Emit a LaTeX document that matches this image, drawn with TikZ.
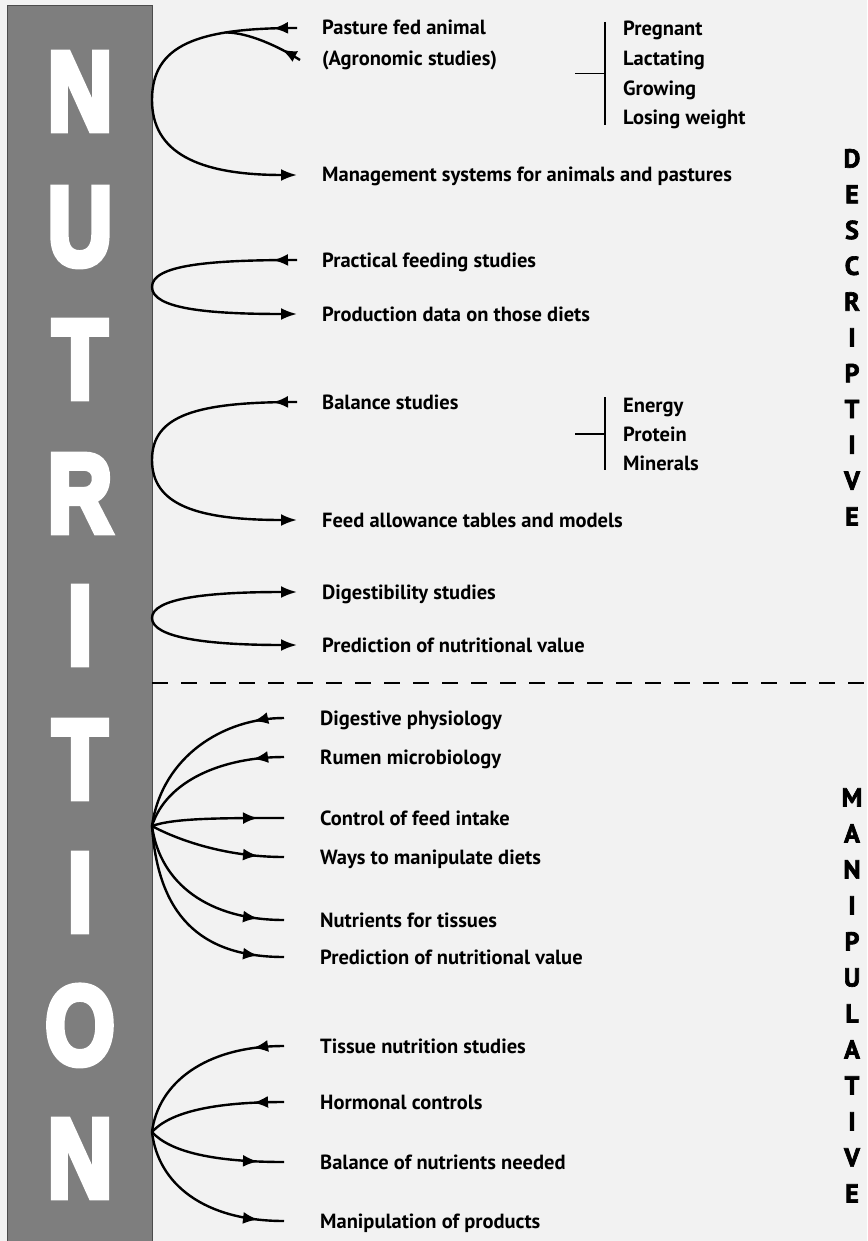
\documentclass[tikz,border=0pt]{standalone}
\usepackage{fontspec}
\setmainfont{PT Sans}
\newfontfamily\bigfont[FakeBold=6]{Liberation Sans Bold}
\newfontfamily\sidefont[FakeBold=2.5]{PT Sans Bold}
\usetikzlibrary{calc,arrows.meta,decorations.markings}
\definecolor{paper}{HTML}{F2F2F2}
\definecolor{barfill}{HTML}{7E7E7E}
\begin{document}
\begin{tikzpicture}[x=1pt,y=-1pt,
  lab/.style={font=\bfseries\fontsize{20.5}{20.5}\selectfont, anchor=west, inner sep=0pt, text height=14pt, text depth=0pt},
  conn/.style={line width=2.4pt},
  tip/.style={-{Latex[length=16pt,width=12pt]}},
  midr/.style={postaction={decorate}, decoration={markings, mark=at position #1 with {\arrow{Latex[length=15pt,width=12pt]}}}},
  midl/.style={postaction={decorate}, decoration={markings, mark=at position #1 with {\arrowreversed{Latex[length=15pt,width=12pt]}}}},
  bigl/.style={font=\bigfont\fontsize{112}{112}\selectfont, text=white, inner sep=0pt, text height=80pt, text depth=0pt},
  side/.style={font=\sidefont\fontsize{26}{26}\selectfont, inner sep=0pt, text height=19pt, text depth=0pt},
  brk/.style={line width=1.8pt}
]
\fill[paper] (0,0) rectangle (867,1241);
\useasboundingbox (0,0) rectangle (867,1241);
\fill[barfill, draw=black!70, line width=0.8pt] (7,5) rectangle (152,1250);

% big letters
\foreach \l/\yy [count=\i] in {N/90,U/225,T/358,R/492,I/624,T/758,I/891,O/1024,N/1157}
  \node[bigl] (big\i) at (80,\yy) {\scalebox{0.8}[1]{\l}};

% side letters
\foreach \l [count=\i] in {D,E,S,C,R,I,P,T,I,V,E}
  \node[side] (des\i) at (852,{158+(\i-1)*35.8}) {\l};
\foreach \l [count=\i] in {M,A,N,I,P,U,L,A,T,I,V,E}
  \node[side] (man\i) at (852,{797+(\i-1)*36}) {\l};

% labels upper
\node[lab] (pasture) at (322,28) {Pasture fed animal};
\node[lab] (agro) at (322,59) {(Agronomic studies)};
\node[lab] (manage) at (322,175) {Management systems for animals and pastures};
\node[lab] (practical) at (322,260) {Practical feeding studies};
\node[lab] (production) at (322,314) {Production data on those diets};
\node[lab] (balance) at (322,402) {Balance studies};
\node[lab] (feed) at (322,520) {Feed allowance tables and models};
\node[lab] (digest) at (322,592) {Digestibility studies};
\node[lab] (predA) at (322,645) {Prediction of nutritional value};
% labels lower
\node[lab] (digphys) at (320,718) {Digestive physiology};
\node[lab] (rumen) at (320,757) {Rumen microbiology};
\node[lab] (control) at (320,818) {Control of feed intake};
\node[lab] (ways) at (320,857) {Ways to manipulate diets};
\node[lab] (nutr) at (320,920) {Nutrients for tissues};
\node[lab] (predB) at (320,957) {Prediction of nutritional value};
\node[lab] (tissue) at (320,1046) {Tissue nutrition studies};
\node[lab] (hormonal) at (320,1102) {Hormonal controls};
\node[lab] (balnut) at (320,1162) {Balance of nutrients needed};
\node[lab] (manip) at (320,1221) {Manipulation of products};

% sub lists
\node[lab] (preg) at (623,29) {Pregnant};
\node[lab] (lact) at (623,59) {Lactating};
\node[lab] (grow) at (623,89) {Growing};
\node[lab] (lose) at (623,118) {Losing weight};
\node[lab] (energy) at (623,405) {Energy};
\node[lab] (protein) at (623,434) {Protein};
\node[lab] (minerals) at (623,463) {Minerals};

% brackets
\coordinate (b1t) at ($(preg.west)+(-18,-7)$);
\coordinate (b1b) at ($(lose.west)+(-18,7)$);
\coordinate (b1m) at ($(b1t)!0.5!(b1b)$);
\draw[brk] (b1t) -- (b1b);
\draw[brk] (b1m) -- ++(-30,0);
\coordinate (b2t) at ($(energy.west)+(-18,-8)$);
\coordinate (b2b) at ($(minerals.west)+(-18,7)$);
\coordinate (b2m) at ($(protein.west)+(-18,0)$);
\draw[brk] (b2t) -- (b2b);
\draw[brk] (b2m) -- ++(-30,0);

% origins on the bar
\coordinate (o1) at (152,100);
\coordinate (o2) at (152,287);
\coordinate (o3) at (152,460);
\coordinate (o4) at (152,618);
\coordinate (o5) at (152,826);
\coordinate (o6) at (152,1132);

% label ends (upper)
\foreach \n in {pasture,manage,practical,production,balance,feed,digest,predA}
  \coordinate (\n E) at ($(\n.west)+(-25,0)$);
\coordinate (agroE) at ($(agro.west)+(-22,1)$);
% label ends (lower)
\foreach \n in {digphys,rumen,control,ways,nutr,predB,tissue,hormonal,balnut,manip}
  \coordinate (\n E) at ($(\n.west)+(-36,0)$);

% group 1
\draw[conn,midl=-24pt] (o1) .. controls +(0,-55) and +(-100,0) .. (pastureE) coordinate[pos=0.72] (br);
\draw[conn,midl=-21pt] (br) .. controls +(22,0) and +(-22,-14) .. (agroE);
\draw[conn,tip] (o1) .. controls +(0,52) and +(-100,0) .. (manageE);

% group 2
\draw[conn,midl=-24pt] (o2) .. controls +(0,-22) and +(-88,0) .. (practicalE);
\draw[conn,tip] (o2) .. controls +(0,22) and +(-88,0) .. (productionE);

% group 3
\draw[conn,midl=-24pt] (o3) .. controls +(0,-45) and +(-100,0) .. (balanceE);
\draw[conn,tip] (o3) .. controls +(0,45) and +(-100,0) .. (feedE);

% group 4
\draw[conn,tip] (o4) .. controls +(0,-20) and +(-88,0) .. (digestE);
\draw[conn,tip] (o4) .. controls +(0,20) and +(-88,0) .. (predAE);

% dashed divider
\coordinate (dashL) at (152,683);
\coordinate (dashR) at (870,683);
\draw[line width=2.4pt, dash pattern=on 16pt off 13pt] (dashL) -- (dashR);

% group 5
\draw[conn,midl=-31pt] (o5) .. controls +(10,-70) and +(-60,0) .. (digphysE);
\draw[conn,midl=-31pt] (o5) .. controls +(14,-45) and +(-62,0) .. (rumenE);
\draw[conn,midr=-26pt] (o5) .. controls +(22,-8) and +(-62,0) .. (controlE);
\draw[conn,midr=-26pt] (o5) .. controls +(22,12) and +(-62,0) .. (waysE);
\draw[conn,midr=-26pt] (o5) .. controls +(8,58) and +(-75,0) .. (nutrE);
\draw[conn,midr=-26pt] (o5) .. controls +(6,88) and +(-85,0) .. (predBE);

% group 6
\draw[conn,midl=-31pt] (o6) .. controls +(6,-48) and +(-80,0) .. (tissueE);
\draw[conn,midl=-31pt] (o6) .. controls +(18,-20) and +(-70,0) .. (hormonalE);
\draw[conn,midr=-26pt] (o6) .. controls +(18,20) and +(-70,0) .. (balnutE);
\draw[conn,midr=-26pt] (o6) .. controls +(6,52) and +(-80,0) .. (manipE);
\end{tikzpicture}
\end{document}
